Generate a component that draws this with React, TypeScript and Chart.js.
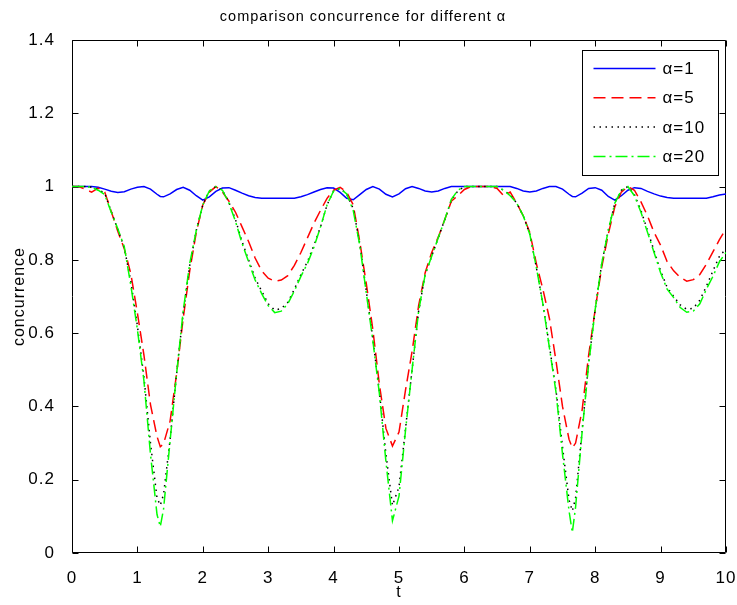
import React, { useEffect, useRef } from "react";
import { Chart, registerables } from "chart.js";

Chart.register(...registerables);

// time samples (t)
const t = [
  0, 0.1, 0.2, 0.3, 0.4, 0.5, 0.6, 0.7, 0.8, 0.9,
  1.0, 1.1, 1.2, 1.3, 1.35, 1.4, 1.5, 1.6, 1.7, 1.8, 1.9,
  2.0, 2.1, 2.2, 2.3, 2.4, 2.5, 2.6, 2.7, 2.8, 2.9,
  3.0, 3.1, 3.2, 3.3, 3.4, 3.5, 3.6, 3.7, 3.8, 3.9,
  4.0, 4.1, 4.2, 4.3, 4.4, 4.5, 4.6, 4.7, 4.8, 4.9,
  5.0, 5.1, 5.2, 5.3, 5.4, 5.5, 5.6, 5.7, 5.8, 5.9,
  6.0, 6.1, 6.2, 6.3, 6.4, 6.5, 6.6, 6.7, 6.8, 6.9,
  7.0, 7.1, 7.2, 7.3, 7.4, 7.5, 7.6, 7.65, 7.7, 7.8, 7.9,
  8.0, 8.1, 8.2, 8.3, 8.4, 8.5, 8.6, 8.7, 8.8, 8.9,
  9.0, 9.1, 9.2, 9.3, 9.4, 9.5, 9.6, 9.7, 9.8, 9.9,
  10.0,
];

// concurrence for alpha = 1
const alpha1 = [
  1.0, 1.0, 1.0, 1.0, 0.998, 0.993, 0.987, 0.984, 0.986, 0.993,
  0.998, 1.0, 0.993, 0.979, 0.973, 0.972, 0.98, 0.992, 0.998, 0.99, 0.975,
  0.963, 0.972, 0.987, 0.996, 0.997, 0.99, 0.982, 0.975, 0.97, 0.968,
  0.968, 0.968, 0.968, 0.968, 0.968, 0.972, 0.978, 0.985, 0.992, 0.997,
  0.996, 0.984, 0.968, 0.964, 0.978, 0.992, 1.0, 0.993, 0.979, 0.972,
  0.98, 0.994, 1.0, 0.995, 0.988, 0.985, 0.988, 0.995, 1.0, 1.0,
  1.0, 1.0, 1.0, 1.0, 1.0, 1.0, 1.0, 1.0, 0.995, 0.988,
  0.985, 0.988, 0.995, 1.0, 1.0, 0.993, 0.979, 0.973, 0.972, 0.982, 0.995,
  0.997, 0.99, 0.973, 0.963, 0.975, 0.99, 0.997, 0.995, 0.987, 0.98,
  0.974, 0.97, 0.968, 0.968, 0.968, 0.968, 0.968, 0.968, 0.972, 0.977,
  0.98,
];

// concurrence for alpha = 5
const alpha5 = [
  1.0, 1.0, 0.993, 0.985, 0.996, 0.985, 0.932, 0.878, 0.83, 0.762,
  0.655, 0.54, 0.405, 0.318, 0.29, 0.298, 0.36, 0.49, 0.64, 0.77, 0.875,
  0.95, 0.985, 1.0, 0.985, 0.96, 0.93, 0.89, 0.85, 0.805, 0.77,
  0.75, 0.742, 0.745, 0.757, 0.785, 0.82, 0.86, 0.9, 0.935, 0.968,
  0.99, 0.998, 0.985, 0.95, 0.85, 0.735, 0.61, 0.46, 0.34, 0.292,
  0.33, 0.445, 0.55, 0.675, 0.765, 0.82, 0.862, 0.91, 0.96, 0.975,
  0.992, 1.0, 1.0, 1.0, 1.0, 0.995, 0.975, 0.985, 0.955, 0.92,
  0.875, 0.79, 0.72, 0.64, 0.525, 0.4, 0.31, 0.287, 0.3, 0.39, 0.54,
  0.665, 0.78, 0.87, 0.945, 0.985, 1.0, 0.99, 0.958, 0.92, 0.875,
  0.84, 0.795, 0.77, 0.752, 0.742, 0.746, 0.76, 0.788, 0.822, 0.855,
  0.885,
];

// concurrence for alpha = 10
const alpha10 = [
  1.0, 1.0, 1.0, 0.998, 0.992, 0.982, 0.932, 0.883, 0.833, 0.74,
  0.62, 0.48, 0.3, 0.15, 0.13, 0.16, 0.31, 0.49, 0.655, 0.785, 0.88,
  0.95, 0.988, 1.0, 0.99, 0.957, 0.91, 0.85, 0.8, 0.75, 0.715,
  0.68, 0.663, 0.667, 0.684, 0.72, 0.76, 0.795, 0.84, 0.89, 0.95,
  0.988, 0.995, 0.98, 0.94, 0.845, 0.715, 0.585, 0.44, 0.27, 0.13,
  0.18, 0.34, 0.5, 0.66, 0.76, 0.81, 0.86, 0.91, 0.963, 0.988,
  1.0, 1.0, 1.0, 1.0, 1.0, 1.0, 0.99, 0.977, 0.955, 0.92,
  0.87, 0.78, 0.68, 0.565, 0.445, 0.29, 0.145, 0.115, 0.15, 0.335, 0.52,
  0.665, 0.79, 0.88, 0.955, 0.99, 1.0, 0.978, 0.935, 0.88, 0.825,
  0.77, 0.725, 0.7, 0.677, 0.665, 0.668, 0.69, 0.728, 0.77, 0.81,
  0.83,
];

// concurrence for alpha = 20
const alpha20 = [
  1.0, 1.0, 1.0, 0.998, 0.99, 0.978, 0.93, 0.885, 0.835, 0.73,
  0.61, 0.47, 0.27, 0.105, 0.072, 0.12, 0.306, 0.49, 0.66, 0.79, 0.88,
  0.95, 0.988, 1.0, 0.99, 0.955, 0.905, 0.845, 0.795, 0.745, 0.708,
  0.675, 0.656, 0.66, 0.68, 0.715, 0.755, 0.79, 0.835, 0.89, 0.95,
  0.988, 0.995, 0.98, 0.935, 0.84, 0.71, 0.58, 0.435, 0.25, 0.088,
  0.155, 0.335, 0.5, 0.66, 0.76, 0.81, 0.86, 0.91, 0.965, 0.99,
  1.0, 1.0, 1.0, 1.0, 1.0, 1.0, 0.99, 0.975, 0.955, 0.92,
  0.87, 0.78, 0.68, 0.56, 0.44, 0.27, 0.115, 0.056, 0.125, 0.33, 0.515,
  0.665, 0.79, 0.88, 0.955, 0.99, 1.0, 0.975, 0.93, 0.875, 0.82,
  0.765, 0.72, 0.697, 0.67, 0.657, 0.66, 0.68, 0.72, 0.755, 0.795,
  0.82,
];

const seriesLabels = ["α=1", "α=5", "α=10", "α=20"];
const seriesValues = [alpha1, alpha5, alpha10, alpha20];

const xTickValues = [0, 1, 2, 3, 4, 5, 6, 7, 8, 9, 10];
const xTickLabels = ["0", "1", "2", "3", "4", "5", "6", "7", "8", "9", "10"];
const yTickValues = [0, 0.2, 0.4, 0.6, 0.8, 1.0, 1.2, 1.4];
const yTickLabels = ["0", "0.2", "0.4", "0.6", "0.8", "1", "1.2", "1.4"];

const titleText = "comparison concurrence for different α";
const xTitle = "t";
const yTitle = "concurrence";

// styles
const seriesColors = ["#0000ff", "#ff0000", "#000000", "#00ff00"];
const seriesDashes: number[][] = [[], [12, 6], [1.5, 4.5], [12, 4, 2, 4]];
const FONT = "'Liberation Sans', Arial, sans-serif";

const spacingPlugin = {
  id: "spacing",
  beforeDraw(chart: any) {
    (chart.ctx as any).letterSpacing = "1px";
  },
};

const framePlugin = {
  id: "frame",
  beforeDatasetsDraw(chart: any) {
    const { ctx, chartArea } = chart;
    const { left, right, top, bottom } = chartArea;
    const xs = chart.scales.x;
    const ys = chart.scales.y;
    ctx.save();
    ctx.strokeStyle = "#000";
    ctx.lineWidth = 1;
    ctx.setLineDash([]);
    const L = Math.round(left) + 0.5;
    const R = Math.round(right) - 0.5;
    const T = Math.round(top) + 0.5;
    const B = Math.round(bottom) - 0.5;
    ctx.beginPath();
    ctx.rect(L, T, R - L, B - T);
    const len = 6;
    xs.ticks.forEach((tk: any) => {
      const px = Math.round(xs.getPixelForValue(tk.value)) + 0.5;
      ctx.moveTo(px, B);
      ctx.lineTo(px, B - len);
      ctx.moveTo(px, T);
      ctx.lineTo(px, T + len);
    });
    ys.ticks.forEach((tk: any) => {
      const py = Math.round(ys.getPixelForValue(tk.value)) + 0.5;
      ctx.moveTo(L, py);
      ctx.lineTo(L + len, py);
      ctx.moveTo(R, py);
      ctx.lineTo(R - len, py);
    });
    ctx.stroke();
    ctx.restore();
  },
};

const legendBoxPlugin = {
  id: "legendBox",
  afterDraw(chart: any) {
    const { ctx, chartArea } = chart;
    const w = 136;
    const h = 125;
    const bx = Math.round(chartArea.right) - 8 - w + 0.5;
    const by = Math.round(chartArea.top) + 10 + 0.5;
    ctx.save();
    ctx.fillStyle = "#fff";
    ctx.fillRect(bx, by, w, h);
    ctx.strokeStyle = "#000";
    ctx.lineWidth = 1;
    ctx.setLineDash([]);
    ctx.strokeRect(bx, by, w, h);
    chart.data.datasets.forEach((ds: any, i: number) => {
      const y = by + 18 + i * 29.3;
      ctx.beginPath();
      ctx.strokeStyle = ds.borderColor;
      ctx.lineWidth = ds.borderWidth;
      ctx.setLineDash(ds.borderDash || []);
      ctx.moveTo(bx + 11, y);
      ctx.lineTo(bx + 73, y);
      ctx.stroke();
      ctx.setLineDash([]);
      ctx.fillStyle = "#000";
      ctx.font = `17px ${FONT}`;
      ctx.textBaseline = "middle";
      ctx.textAlign = "left";
      ctx.fillText(ds.label, bx + 80, y + 1);
    });
    ctx.restore();
  },
};

export default function App() {
  const ref = useRef<HTMLCanvasElement>(null);

  useEffect(() => {
    document.body.style.margin = "0";
    const canvas = ref.current;
    if (!canvas) return;

    const datasets = seriesLabels.map((label, k) => ({
      label,
      data: t.map((x, i) => ({ x, y: seriesValues[k][i] })),
      borderColor: seriesColors[k],
      backgroundColor: seriesColors[k],
      borderWidth: 1.5,
      borderDash: seriesDashes[k],
      pointRadius: 0,
      tension: 0,
      fill: false,
      order: 3 - k,
    }));

    const chart = new Chart(canvas, {
      type: "line",
      data: { datasets },
      options: {
        animation: false,
        responsive: false,
        maintainAspectRatio: false,
        layout: { padding: { left: 0, right: 11, top: 0, bottom: 0 } },
        plugins: {
          legend: { display: false },
          tooltip: { enabled: false },
          title: {
            display: true,
            text: titleText,
            color: "#000",
            font: { family: FONT, size: 14.5, weight: "normal" },
            padding: { top: 8, bottom: 14.6 },
          },
        },
        scales: {
          x: {
            type: "linear",
            min: 0,
            max: 10,
            afterBuildTicks: (s: any) => {
              s.ticks = xTickValues.map((v) => ({ value: v }));
            },
            afterFit: (s: any) => {
              s.height = 52;
              s.paddingLeft = 0;
              s.paddingRight = 0;
            },
            grid: { display: false },
            border: { display: false },
            ticks: {
              autoSkip: false,
              maxRotation: 0,
              padding: 7,
              color: "#000",
              font: { family: FONT, size: 17 },
              callback: (_v: any, i: number) => xTickLabels[i],
            },
            title: {
              display: true,
              text: xTitle,
              color: "#000",
              font: { family: FONT, size: 16 },
              padding: { top: 0, bottom: 3 },
            },
          },
          y: {
            type: "linear",
            min: 0,
            max: 1.4,
            afterBuildTicks: (s: any) => {
              s.ticks = yTickValues.map((v) => ({ value: v }));
            },
            afterFit: (s: any) => {
              s.width = 72;
              s.paddingTop = 0;
              s.paddingBottom = 0;
            },
            grid: { display: false },
            border: { display: false },
            ticks: {
              autoSkip: false,
              padding: 9,
              color: "#000",
              font: { family: FONT, size: 17 },
              callback: (_v: any, i: number) => yTickLabels[i],
            },
            title: {
              display: true,
              text: yTitle,
              color: "#000",
              font: { family: FONT, size: 16 },
              padding: { top: 10, bottom: 0 },
            },
          },
        },
      },
      plugins: [spacingPlugin, framePlugin, legendBoxPlugin],
    } as any);

    return () => chart.destroy();
  }, []);

  return (
    <canvas
      ref={ref}
      width={737}
      height={605}
      style={{ display: "block", width: 737, height: 605 }}
    />
  );
}
